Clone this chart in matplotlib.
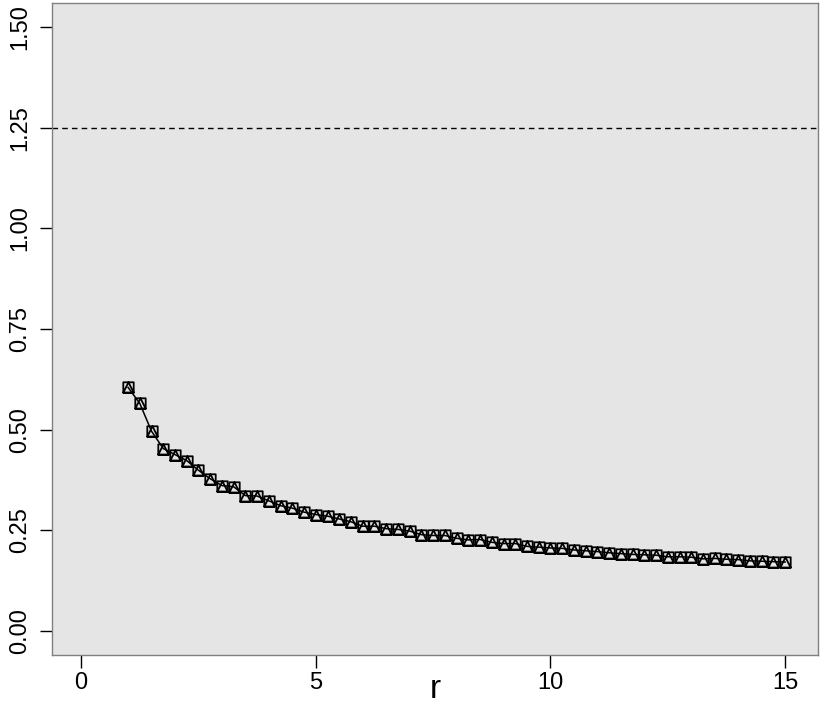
import numpy as np
import matplotlib.pyplot as plt
from matplotlib.path import Path

plt.rcParams['font.family'] = ['Liberation Sans', 'DejaVu Sans']

# r grid and the estimated values
r = np.arange(1, 15.01, 0.25)
values = [0.605, 0.565, 0.496, 0.453, 0.438, 0.423, 0.399, 0.378, 0.361, 0.358,
          0.336, 0.335, 0.323, 0.311, 0.305, 0.295, 0.289, 0.285, 0.278, 0.271,
          0.260, 0.260, 0.254, 0.252, 0.248, 0.239, 0.237, 0.237, 0.230, 0.226,
          0.227, 0.220, 0.217, 0.217, 0.210, 0.208, 0.206, 0.205, 0.201, 0.199,
          0.197, 0.194, 0.192, 0.190, 0.189, 0.188, 0.184, 0.184, 0.183, 0.179,
          0.180, 0.178, 0.177, 0.174, 0.173, 0.172, 0.171]
ref_level = 1.25
xticks = [0, 5, 10, 15]
yticks = [0.00, 0.25, 0.50, 0.75, 1.00, 1.25, 1.50]

# square with triangle inside (like R pch 14)
verts = [(-1, -1), (1, -1), (1, 1), (-1, 1), (-1, -1),
         (-1, -1), (1, -1), (0, 1), (-1, -1)]
codes = [Path.MOVETO, Path.LINETO, Path.LINETO, Path.LINETO, Path.CLOSEPOLY,
         Path.MOVETO, Path.LINETO, Path.LINETO, Path.CLOSEPOLY]
sq_tri = Path(verts, codes)

fig = plt.figure(figsize=(8.3, 7.06), dpi=100)
ax = fig.add_axes([0.0627, 0.0722, 0.9228, 0.9236])
ax.set_facecolor('#e5e5e5')

ax.axhline(ref_level, color='black', lw=1, dashes=(4, 3))
ax.plot(r, values, color='black', lw=1.1, marker=sq_tri, markersize=7.5,
        markerfacecolor='none', markeredgecolor='black', markeredgewidth=1.3)

ax.set_xlim(-0.62, 15.7)
ax.set_ylim(-0.06, 1.56)
ax.set_xticks(xticks)
ax.set_xticklabels([str(t) for t in xticks])
ax.set_yticks(yticks)
ax.set_yticklabels(['%.2f' % t for t in yticks], rotation=90, va='center')

for s in ax.spines.values():
    s.set_color('#808080')
    s.set_linewidth(1)

ax.tick_params(axis='both', direction='out', length=9, width=1, color='black',
               labelsize=17)
ax.tick_params(axis='x', pad=3)
ax.tick_params(axis='y', pad=6)

fig.text(0.524, 0.0113, 'r', fontsize=24, ha='center', va='baseline')

fig.savefig('out.png', dpi=100)
